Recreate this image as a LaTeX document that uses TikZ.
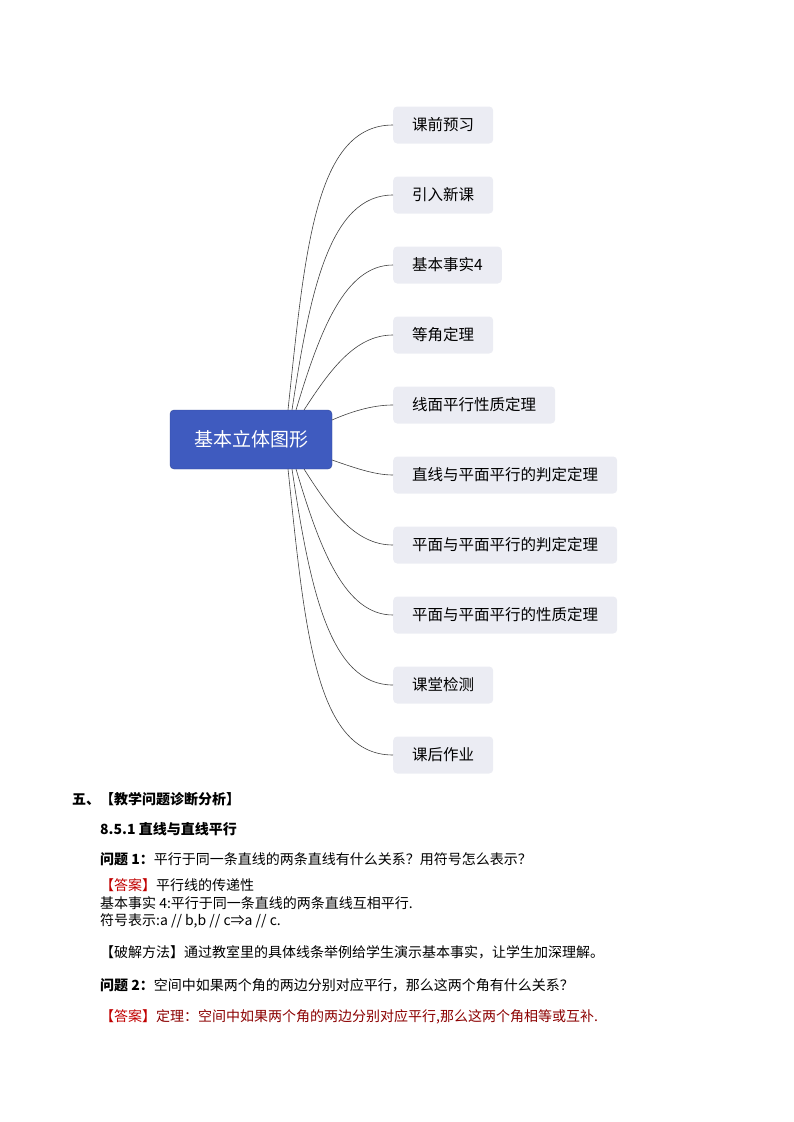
\documentclass[tikz,border=0pt]{standalone}
\usepackage{fontspec}
\setmainfont{Noto Sans CJK SC}
\definecolor{cen}{HTML}{3F5BBF}
\definecolor{leaf}{HTML}{EBECF3}
\definecolor{ans}{HTML}{C00000}
\definecolor{dred}{HTML}{8B0000}
\begin{document}
\begin{tikzpicture}[x=1pt,y=-1pt,
  leafbox/.style={fill=leaf,rounded corners=4pt,anchor=west,minimum height=37pt,inner xsep=19pt,font=\fontsize{15.5}{18}\selectfont},
  conn/.style={draw=black!75,line width=0.6pt},
  body/.style={anchor=west,inner sep=0pt,font=\fontsize{14}{17}\selectfont}]
\useasboundingbox (0,0) rectangle (793,1122);
\node[fill=cen,rounded corners=4pt,minimum width=162pt,minimum height=59pt,text=white,font=\fontsize{19}{22}\selectfont,draw=cen!80!black] (c) at (251,439.5) {基本立体图形};
\foreach \n/\y/\t in {1/125/课前预习,2/195/引入新课,3/265/基本事实4,4/335/等角定理,5/405/线面平行性质定理,6/475/直线与平面平行的判定定理,7/545/平面与平面平行的判定定理,8/615/平面与平面平行的性质定理,9/685/课堂检测,10/755/课后作业}
  \node[leafbox] (n\n) at (393,\y) {\t};
\draw[conn] (288,410) .. controls (305,250) and (315,125) .. (n1.west);
\draw[conn] (292,410) .. controls (310,290) and (330,195) .. (n2.west);
\draw[conn] (296,410) .. controls (320,330) and (345,265) .. (n3.west);
\draw[conn] (304,410) .. controls (330,370) and (355,335) .. (n4.west);
\draw[conn] (332,420) .. controls (355,410) and (375,405) .. (n5.west);
\draw[conn] (332,460) .. controls (355,468) and (375,475) .. (n6.west);
\draw[conn] (304,469) .. controls (330,510) and (355,545) .. (n7.west);
\draw[conn] (296,469) .. controls (320,550) and (345,615) .. (n8.west);
\draw[conn] (292,469) .. controls (310,590) and (330,685) .. (n9.west);
\draw[conn] (288,469) .. controls (305,630) and (315,755) .. (n10.west);
\node[body,font=\fontsize{14}{17}\bfseries\selectfont] (h1) at (72,799) {五、【教学问题诊断分析】};
\node[body,font=\fontsize{14}{17}\bfseries\selectfont] (h2) at (100,829) {8.5.1 直线与直线平行};
\node[body] (q1) at (100,859) {\textbf{问题 1：}平行于同一条直线的两条直线有什么关系？用符号怎么表示？};
\node[body] (a1) at (100,885) {\textcolor{ans}{【答案】}平行线的传递性};
\node[body] (l1) at (100,903) {基本事实 4:平行于同一条直线的两条直线互相平行.};
\node[body] (l2) at (100,921) {符号表示:a // b,b // c⇒a // c.};
\node[body] (m1) at (100,952) {【破解方法】通过教室里的具体线条举例给学生演示基本事实，让学生加深理解。};
\node[body] (q2) at (100,985) {\textbf{问题 2：}空间中如果两个角的两边分别对应平行，那么这两个角有什么关系？};
\node[body] (a2) at (100,1017) {\textcolor{ans}{【答案】}\textcolor{dred}{定理：空间中如果两个角的两边分别对应平行,那么这两个角相等或互补.}};
\end{tikzpicture}
\end{document}
